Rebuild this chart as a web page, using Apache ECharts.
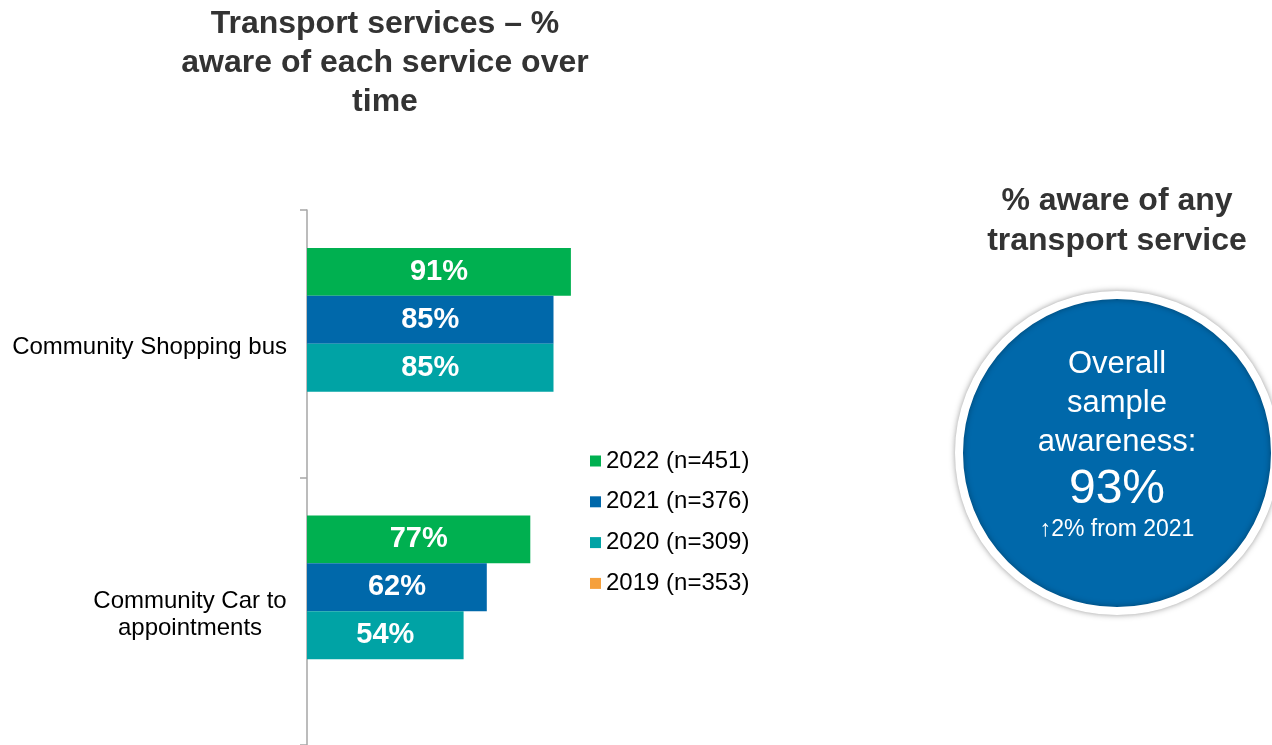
<!DOCTYPE html>
<html>
<head>
<meta charset="utf-8">
<script src="https://cdn.jsdelivr.net/npm/echarts@6/dist/echarts.min.js"></script>
<style>
  html, body { margin: 0; padding: 0; background: #ffffff; }
  #chart { width: 1272px; height: 745px; }
</style>
</head>
<body>
<div id="chart"></div>
<script>
// Services asked about (top to bottom)
const categories = ['Community Shopping bus', 'Community Car to\nappointments'];

// Survey waves with sample sizes
const waveNames = ['2022 (n=451)', '2021 (n=376)', '2020 (n=309)', '2019 (n=353)'];

// % aware of each service, per wave
const aware2022 = [91, 77];
const aware2021 = [85, 62];
const aware2020 = [85, 54];
const aware2019 = ['-', '-'];

const waveValues = [aware2022, aware2021, aware2020, aware2019];
const waveColors = ['#00B050', '#0068AA', '#00A3A5', '#F5A03C'];

// Overall awareness of any transport service
const overallAware = 93;
const overallChangeText = '\u21912% from 2021';

const FONT = '"Liberation Sans", Arial, Helvetica, sans-serif';

const chart = echarts.init(document.getElementById('chart'), null, { renderer: 'canvas' });

const series = waveNames.map((name, i) => ({
  name: name,
  type: 'bar',
  data: waveValues[i],
  barGap: '0%',
  barCategoryGap: '28.4%',
  itemStyle: { color: waveColors[i] },
  label: {
    show: true,
    position: 'inside',
    formatter: '{c}%',
    color: '#ffffff',
    fontWeight: 'bold',
    fontSize: 29,
    fontFamily: FONT
  },
  emphasis: { disabled: true }
}));

const option = {
  backgroundColor: '#ffffff',
  animation: false,
  grid: { left: 307, right: 675, top: 210, bottom: 0, containLabel: false },
  legend: {
    orient: 'vertical',
    left: 590,
    top: 449,
    padding: 0,
    icon: 'rect',
    itemWidth: 11,
    itemHeight: 11,
    itemGap: 16.8,
    textStyle: { fontSize: 24, color: '#000000', fontFamily: FONT },
    data: waveNames
  },
  xAxis: {
    type: 'value',
    min: 0,
    max: 100,
    show: false
  },
  yAxis: {
    type: 'category',
    inverse: true,
    data: categories,
    axisLine: { show: true, lineStyle: { color: '#A6A6A6', width: 1.5 } },
    axisTick: { show: true, length: 7, lineStyle: { color: '#A6A6A6', width: 1.5 } },
    axisLabel: {
      margin: 20,
      fontSize: 24,
      color: '#000000',
      fontFamily: FONT,
      lineHeight: 27,
      padding: [8, 0, 0, 0],
      formatter: function (v) {
        return v.indexOf('\n') >= 0 ? '{c|' + v + '}' : v;
      },
      rich: {
        c: { width: 194, align: 'center', fontSize: 24, lineHeight: 27, color: '#000000', fontFamily: FONT }
      }
    }
  },
  series: series,
  graphic: [
    {
      type: 'text',
      style: {
        x: 385, y: 63,
        text: 'Transport services \u2013 %\naware of each service over\ntime',
        align: 'center', verticalAlign: 'middle',
        fontSize: 32, fontWeight: 'bold', fontFamily: FONT,
        lineHeight: 39, fill: '#333333'
      }
    },
    {
      type: 'text',
      style: {
        x: 1117, y: 221,
        text: '% aware of any\ntransport service',
        align: 'center', verticalAlign: 'middle',
        fontSize: 32, fontWeight: 'bold', fontFamily: FONT,
        lineHeight: 40, fill: '#333333'
      }
    },
    {
      type: 'circle',
      shape: { cx: 1117, cy: 453, r: 158 },
      style: {
        fill: '#0068AA', stroke: '#ffffff', lineWidth: 8,
        shadowBlur: 6, shadowColor: 'rgba(0,0,0,0.35)'
      }
    },
    {
      type: 'text',
      style: {
        x: 1117, y: 403,
        text: 'Overall\nsample\nawareness:',
        align: 'center', verticalAlign: 'middle',
        fontSize: 31, fontFamily: FONT, lineHeight: 39, fill: '#ffffff'
      }
    },
    {
      type: 'text',
      style: {
        x: 1117, y: 490,
        text: overallAware + '%',
        align: 'center', verticalAlign: 'middle',
        fontSize: 48, fontFamily: FONT, fill: '#ffffff'
      }
    },
    {
      type: 'text',
      style: {
        x: 1117, y: 530,
        text: overallChangeText,
        align: 'center', verticalAlign: 'middle',
        fontSize: 23, fontFamily: FONT, fill: '#ffffff'
      }
    }
  ]
};

chart.setOption(option);
</script>
</body>
</html>
